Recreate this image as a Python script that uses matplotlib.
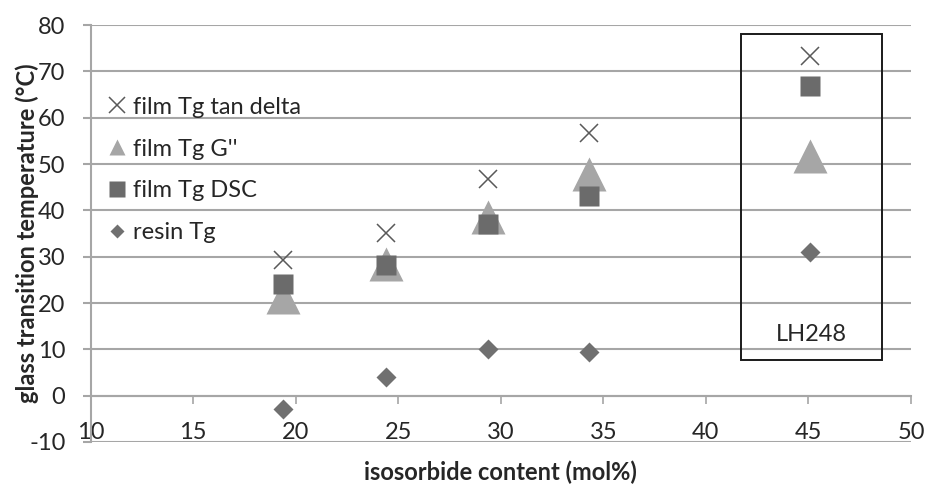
import matplotlib
matplotlib.use('Agg')
import matplotlib.pyplot as plt
from matplotlib.lines import Line2D
from matplotlib.patches import Rectangle

plt.rcParams['font.family'] = ['Lato', 'DejaVu Sans']
plt.rcParams['axes.unicode_minus'] = False

# ---- data ----
content = [19.4, 24.4, 29.4, 34.3, 45.1]
tg_tan_delta = [29.3, 35.2, 46.7, 56.6, 73.3]
tg_g2 = [21.2, 28.4, 38.5, 47.8, 51.7]
tg_dsc = [24.0, 28.1, 37.0, 43.0, 66.9]
tg_resin = [-2.8, 4.1, 10.1, 9.5, 31.1]

labels = ["film Tg tan delta", "film Tg G''", "film Tg DSC", "resin Tg"]
x_ticks = [10, 15, 20, 25, 30, 35, 40, 45, 50]
y_ticks = [-10, 0, 10, 20, 30, 40, 50, 60, 70, 80]

box_x = [41.7, 48.6]
box_y = [7.6, 78.1]
box_label = "LH248"

c_x = '#595959'
c_tri = '#a6a6a6'
c_sq = '#6b6b6b'
c_dia = '#707070'
grid_c = '#a6a6a6'
txt_c = '#262626'

fs = 17

fig = plt.figure(figsize=(9.25, 4.93), dpi=100)
ax = fig.add_axes([90.5/925, 51/493, (911-90.5)/925, (442-25)/493])

ax.plot(content, tg_tan_delta, ls='none', marker='x', ms=13, mew=1.1, color=c_x, zorder=5)
ax.plot(content, tg_g2, ls='none', marker='^', ms=24, color=c_tri, mec='none', zorder=3)
ax.plot(content, tg_dsc, ls='none', marker='s', ms=14.5, color=c_sq, mec='none', zorder=4)
ax.plot(content, tg_resin, ls='none', marker='D', ms=10, color=c_dia, mec='none', zorder=4)

ax.set_xlim(x_ticks[0], x_ticks[-1])
ax.set_ylim(y_ticks[0], y_ticks[-1])
ax.set_xticks(x_ticks)
ax.set_yticks(y_ticks)
ax.yaxis.grid(True, color=grid_c, lw=1.5)
ax.set_axisbelow(True)

for s in ['top', 'right']:
    ax.spines[s].set_visible(False)
ax.spines['left'].set_color(grid_c)
ax.spines['left'].set_linewidth(1.5)
ax.spines['bottom'].set_position(('data', 0))
ax.spines['bottom'].set_color(grid_c)
ax.spines['bottom'].set_linewidth(1.5)

ax.tick_params(axis='x', direction='out', length=6, width=1.2, color=grid_c,
               pad=13, labelsize=fs, labelcolor=txt_c)
ax.tick_params(axis='y', direction='out', length=6, width=1.5, color=grid_c,
               pad=12, labelsize=fs, labelcolor=txt_c)

ax.set_xlabel('isosorbide content (mol%)', fontsize=fs, fontweight='bold', color=txt_c)
ax.xaxis.set_label_coords(0.5, -0.045)
ax.set_ylabel('glass transition temperature (°C)', fontsize=fs, fontweight='bold', color=txt_c)
ax.yaxis.set_label_coords(-0.063, 0.5)

rect = Rectangle((box_x[0], box_y[0]), box_x[1]-box_x[0], box_y[1]-box_y[0],
                 fill=False, ec='#1a1a1a', lw=1.4, zorder=6)
ax.add_patch(rect)
ax.text(sum(box_x)/2, 13.2, box_label, ha='center', va='center', fontsize=fs, color=txt_c)

handles = [
    Line2D([], [], ls='none', marker='x', ms=12, mew=1.1, color=c_x),
    Line2D([], [], ls='none', marker='^', ms=12, color=c_tri, mec='none'),
    Line2D([], [], ls='none', marker='s', ms=11.5, color=c_sq, mec='none'),
    Line2D([], [], ls='none', marker='D', ms=7.5, color=c_dia, mec='none'),
]
leg = ax.legend(handles, labels, loc='upper left', bbox_to_anchor=(0.0185, 0.828),
                frameon=False, fontsize=fs, handlelength=1.0, handletextpad=0.16,
                labelspacing=0.88, borderpad=0, borderaxespad=0)
for t in leg.get_texts():
    t.set_color(txt_c)

fig.savefig('out.png', dpi=100)
